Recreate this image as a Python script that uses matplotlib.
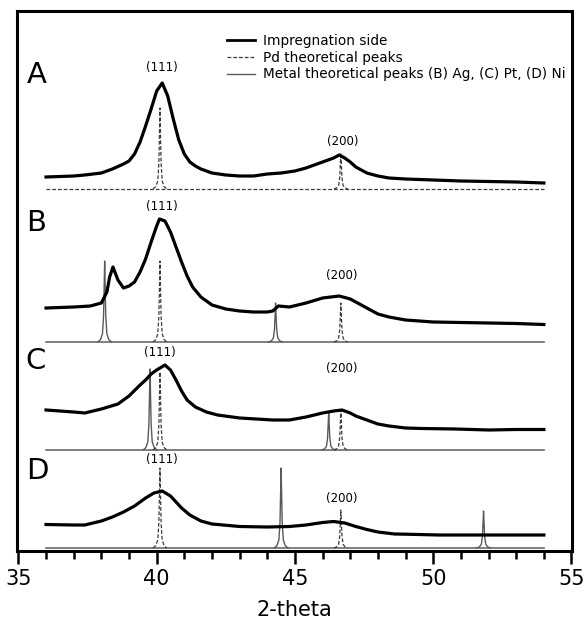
import numpy as np
import matplotlib.pyplot as plt
from matplotlib.ticker import MultipleLocator
from matplotlib.lines import Line2D

# measured patterns (impregnation side), height above each panel baseline
tt_A = [36.0, 37.0, 37.4, 38.0, 38.4, 38.8, 39.0, 39.2, 39.4, 39.6, 39.8, 40.0, 40.2, 40.4,
        40.6, 40.8, 41.0, 41.2, 41.4, 41.6, 42.0, 42.5, 43.0, 43.5, 44.0, 44.5, 45.0, 45.4,
        45.8, 46.0, 46.4, 46.6, 46.8, 47.0, 47.2, 47.6, 48.0, 48.4, 49.0, 50.0, 51.0, 52.0,
        53.0, 54.0]
I_A = [12, 13, 14, 16, 20, 25, 28, 35, 47, 63, 80, 98, 106, 93,
       70, 49, 35, 27, 23, 20, 16, 14, 13, 13, 15, 16, 18, 21,
       25, 27, 31, 34, 31, 27, 22, 16, 13, 11, 10, 9, 8, 7.5,
       7, 6]

tt_B = [36.0, 37.0, 37.6, 38.0, 38.2, 38.3, 38.42, 38.6, 38.8, 39.0, 39.2, 39.4, 39.6, 39.8,
        40.0, 40.1, 40.3, 40.5, 40.7, 40.9, 41.1, 41.3, 41.6, 42.0, 42.5, 43.0, 43.5, 44.0,
        44.2, 44.4, 44.8, 45.4, 46.0, 46.6, 47.0, 47.2, 47.6, 48.0, 48.4, 49.0, 50.0, 51.0,
        52.0, 53.0, 54.0]
I_B = [34, 35, 36, 39, 50, 65, 75, 62, 54, 56, 60, 70, 83, 100,
       116, 123, 121, 110, 95, 80, 66, 55, 45, 37, 33, 31, 30, 30,
       31, 36, 35, 39, 44, 46, 43, 40, 34, 28, 25, 22, 20, 19.5,
       19, 18.5, 17.5]

tt_C = [36.0, 37.0, 37.4, 38.0, 38.6, 39.0, 39.4, 39.6, 39.8, 40.0, 40.3, 40.5, 40.7, 40.9,
        41.1, 41.4, 41.8, 42.2, 43.0, 43.6, 44.2, 44.8, 45.4, 46.0, 46.4, 46.7, 47.0, 47.2,
        47.6, 48.0, 48.4, 49.0, 49.6, 50.8, 52.0, 53.0, 54.0]
I_C = [40, 38, 37, 41, 46, 54, 65, 70, 76, 80, 85, 80, 70, 59,
       50, 43, 38, 35, 32, 31, 30, 30, 33, 37, 39, 40, 37, 34,
       30, 26, 24, 22, 21.5, 21, 20, 20.5, 20.5]

tt_D = [36.0, 37.0, 37.4, 38.0, 38.4, 38.8, 39.2, 39.6, 39.9, 40.2, 40.5, 40.7, 40.9, 41.2,
        41.6, 42.0, 43.0, 44.0, 44.8, 45.4, 46.0, 46.4, 46.8, 47.2, 47.6, 48.0, 48.6, 49.0,
        50.2, 52.0, 54.0]
I_D = [23.5, 23, 23, 27, 31, 36, 42, 50, 55, 57, 52, 46, 40, 33,
       27, 24, 21.5, 21, 21.5, 23, 25.5, 26.5, 25, 21.5, 18.5, 16, 14, 13.8,
       13, 13, 13]

# theoretical peaks
pd_pos = [40.12, 46.66]
pd_h_A = [81, 36]
pd_h_B = [81, 39]
pd_h_C = [78, 40]
pd_h_D = [80, 38]

ag_pos = [38.12, 44.30]
ag_h = [81, 39]
pt_pos = [39.76, 46.22]
pt_h = [81, 38]
ni_pos = [44.50, 51.82]
ni_h = [80, 37]

# narrow profile used for each theoretical reflection
peak_dx = [-0.25, -0.15, -0.08, -0.04, -0.02, 0.0, 0.02, 0.04, 0.08, 0.15, 0.25]
peak_shape = [0.0, 0.03, 0.1, 0.32, 0.65, 1.0, 0.65, 0.32, 0.1, 0.03, 0.0]

hkl_labels = ["(111)", "(200)"]
panel_names = ["A", "B", "C", "D"]

# layout (vertical offset of each pattern)
offsets = [362, 209, 101, 3]


def draw_peaks(ax, pos, heights, base, **kw):
    for p, h in zip(pos, heights):
        xs = [p + d for d in peak_dx]
        ys = [base + h * s for s in peak_shape]
        ax.plot(xs, ys, **kw)


fig = plt.figure(figsize=(5.85, 6.26), dpi=100)
ax = fig.add_axes([17 / 585, 75 / 626, 554.5 / 585, 540 / 626])

metal_kw = dict(color="#5a5a5a", lw=1.0)
pd_kw = dict(color="#3a3a3a", lw=0.9, ls=(0, (3, 1.6)))

measured = [(tt_A, I_A), (tt_B, I_B), (tt_C, I_C), (tt_D, I_D)]
pd_heights = [pd_h_A, pd_h_B, pd_h_C, pd_h_D]
metals = [None, (ag_pos, ag_h), (pt_pos, pt_h), (ni_pos, ni_h)]

for i in range(4):
    base = offsets[i]
    if metals[i] is None:
        ax.plot([36, 54], [base, base], **pd_kw)
    else:
        ax.plot([36, 54], [base, base], color="#6a6a6a", lw=1.2)
        draw_peaks(ax, metals[i][0], metals[i][1], base, **metal_kw)
    draw_peaks(ax, pd_pos, pd_heights[i], base, **pd_kw)
    tt, I = measured[i]
    ax.plot(tt, [base + v for v in I], color="black", lw=2.3, zorder=5)

# panel letters
letter_xy = [(37, 75), (36.5, 223), (36, 361), (37, 471)]
for name, (px, py) in zip(panel_names, letter_xy):
    ax.text(35 + (px - 18.5) / 27.66, 551 - py, name, fontsize=21,
            ha="center", va="center")

# reflection labels
hkl_xy = [[(161.7, 68), (342.7, 141.7)],
          [(161.7, 206.7), (341.7, 275)],
          [(160, 352.5), (341.7, 368.3)],
          [(161.7, 459), (341.7, 498.3)]]
for pair in hkl_xy:
    for lab, (px, py) in zip(hkl_labels, pair):
        ax.text(35 + (px - 18.5) / 27.66, 551 - py, lab, fontsize=8.5,
                ha="center", va="center")

handles = [Line2D([], [], color="black", lw=2.0),
           Line2D([], [], **pd_kw),
           Line2D([], [], **metal_kw)]
labels = ["Impregnation side", "Pd theoretical peaks",
          "Metal theoretical peaks (B) Ag, (C) Pt, (D) Ni"]
ax.legend(handles, labels, loc="upper left", bbox_to_anchor=((227 - 17) / 554.5, (551 - 34) / 540),
          frameon=False, fontsize=9.8, handlelength=2.05, handletextpad=0.6,
          labelspacing=0.2, borderpad=0, borderaxespad=0)

ax.set_xlim(34.95, 55.0)
ax.set_ylim(0, 540)
ax.xaxis.set_major_locator(MultipleLocator(5))
ax.xaxis.set_minor_locator(MultipleLocator(1))
ax.set_yticks([])
ax.tick_params(axis="x", which="major", direction="out", length=9, width=1.8,
               labelsize=15, pad=4)
ax.tick_params(axis="x", which="minor", direction="out", length=6, width=1.8)
for sp in ax.spines.values():
    sp.set_linewidth(2.2)
ax.set_xlabel("2-theta", fontsize=15, labelpad=8)

fig.savefig("out.png", dpi=100)
